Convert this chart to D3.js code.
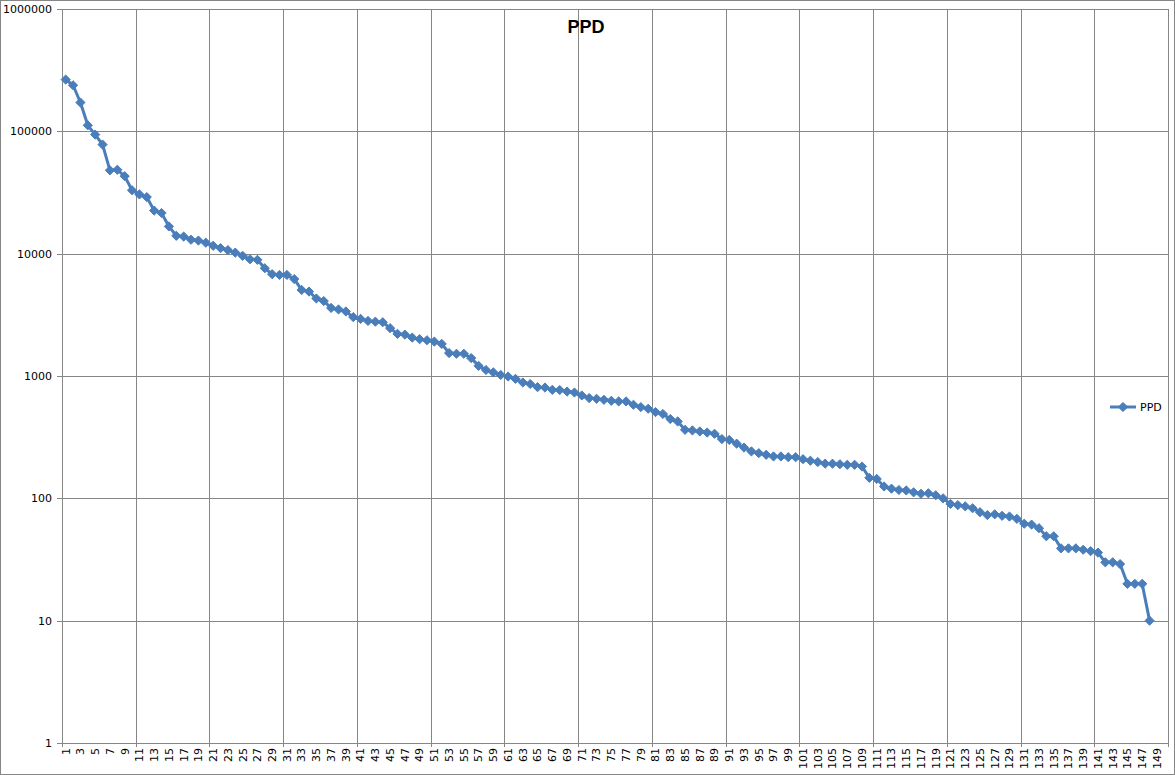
<!DOCTYPE html>
<html>
<head>
<meta charset="utf-8">
<script src="https://cdn.jsdelivr.net/npm/d3@7/dist/d3.min.js"></script>
<style>
  html, body { margin: 0; padding: 0; background: #fff; }
  svg { display: block; }
  text { font-family: "DejaVu Sans", Verdana, sans-serif; }
</style>
</head>
<body>
<svg id="chart" width="1175" height="775"></svg>
<script>
// ---- Data ----
const title = "PPD";
const seriesName = "PPD";
const categories = d3.range(1, 151); // 150 category slots
const values = [
  265000, 238000, 172000, 112000, 94000, 78000, 48000, 48500, 43000, 33000,
  30500, 29000, 22500, 21500, 16700, 14000, 13800, 13000, 12800, 12300,
  11600, 11100, 10700, 10200, 9600, 9000, 8900, 7600, 6800, 6700,
  6700, 6200, 5050, 4900, 4300, 4100, 3600, 3500, 3370, 3030,
  2930, 2820, 2780, 2750, 2460, 2210, 2180, 2060, 2000, 1960,
  1910, 1830, 1540, 1520, 1520, 1400, 1210, 1120, 1070, 1020,
  990, 948, 885, 860, 811, 805, 771, 768, 746, 733,
  693, 660, 651, 639, 627, 620, 620, 582, 557, 540,
  507, 489, 445, 425, 363, 359, 352, 345, 337, 305,
  300, 280, 260, 242, 234, 227, 220, 220, 217, 217,
  209, 203, 198, 192, 192, 190, 188, 188, 182, 147,
  144, 125, 120, 117, 116, 112, 109, 110, 106, 100,
  90, 88, 86, 83, 77, 73, 74, 72, 71, 68,
  62, 61, 57, 49, 49, 39, 39, 39, 38, 37,
  36, 30, 30, 29, 20, 20, 20, 10
];
const yTicks = [1, 10, 100, 1000, 10000, 100000, 1000000];
const xLabels = categories.filter(c => c % 2 === 1);
const xGridEvery = 10;

// ---- Layout ----
const W = 1175, H = 775;
const plot = { left: 62, right: 1168, top: 9, bottom: 743 };
const color = "#4A7EBB";
const gridColor = "#868686";

const svg = d3.select("#chart");

// outer border
svg.append("rect").attr("x", 0.5).attr("y", 0.5).attr("width", W - 1).attr("height", H - 1)
  .attr("fill", "#fff").attr("stroke", gridColor).attr("stroke-width", 1);

const x = d3.scaleBand().domain(categories).range([plot.left, plot.right]).padding(0);
const y = d3.scaleLog().domain([1, 1000000]).range([plot.bottom, plot.top]);

// horizontal gridlines
svg.append("g").selectAll("line").data(yTicks).join("line")
  .attr("x1", plot.left - 5).attr("x2", plot.right)
  .attr("y1", d => Math.round(y(d)) + 0.5).attr("y2", d => Math.round(y(d)) + 0.5)
  .attr("stroke", gridColor).attr("stroke-width", 1);

// vertical gridlines at every 10 categories (boundaries)
const vGrid = categories.filter(c => (c - 1) % xGridEvery === 0).map(c => x(c)).concat([plot.right]);
svg.append("g").selectAll("line").data(vGrid).join("line")
  .attr("x1", d => Math.round(d) + 0.5).attr("x2", d => Math.round(d) + 0.5)
  .attr("y1", plot.top).attr("y2", plot.bottom + 4)
  .attr("stroke", gridColor).attr("stroke-width", 1);

// y tick labels
svg.append("g").selectAll("text").data(yTicks).join("text")
  .attr("x", 52).attr("y", d => y(d)).attr("dy", "0.35em")
  .attr("text-anchor", "end").attr("font-size", 11).attr("fill", "#000")
  .text(d => d3.format("d")(d));

// x tick labels (rotated)
svg.append("g").selectAll("text").data(xLabels).join("text")
  .attr("transform", d => `translate(${x(d) + x.bandwidth() / 2},${plot.bottom + 5}) rotate(-90)`)
  .attr("dy", "0.35em").attr("text-anchor", "end")
  .attr("font-size", 11).attr("fill", "#000")
  .text(d => d);

// series line
const pts = values.map((v, i) => ({ c: categories[i], v }));
const line = d3.line().x(d => x(d.c) + x.bandwidth() / 2).y(d => y(d.v));
svg.append("path").datum(pts).attr("d", line)
  .attr("fill", "none").attr("stroke", color).attr("stroke-width", 3)
  .attr("stroke-linejoin", "round");

// square diamond markers
const r = 4.6;
const diamond = `M0,${-r}L${r},0L0,${r}L${-r},0Z`;
svg.append("g").selectAll("path").data(pts).join("path")
  .attr("transform", d => `translate(${x(d.c) + x.bandwidth() / 2},${y(d.v)})`)
  .attr("d", diamond).attr("fill", color).attr("stroke", color).attr("stroke-width", 1);

// title
svg.append("text").attr("x", 586).attr("y", 33).attr("text-anchor", "middle")
  .attr("font-size", 18).attr("font-weight", "bold")
  .style("font-family", "'Liberation Sans', Arial, sans-serif")
  .text(title);

// legend
const lg = svg.append("g").attr("transform", "translate(1110,407)");
lg.append("line").attr("x1", 0).attr("x2", 26).attr("y1", 0).attr("y2", 0)
  .attr("stroke", color).attr("stroke-width", 3);
lg.append("path").attr("transform", "translate(13,0)").attr("d", diamond)
  .attr("fill", color).attr("stroke", color).attr("stroke-width", 1);
lg.append("text").attr("x", 30).attr("y", 0).attr("dy", "0.35em")
  .attr("font-size", 11).text(seriesName);
</script>
</body>
</html>
